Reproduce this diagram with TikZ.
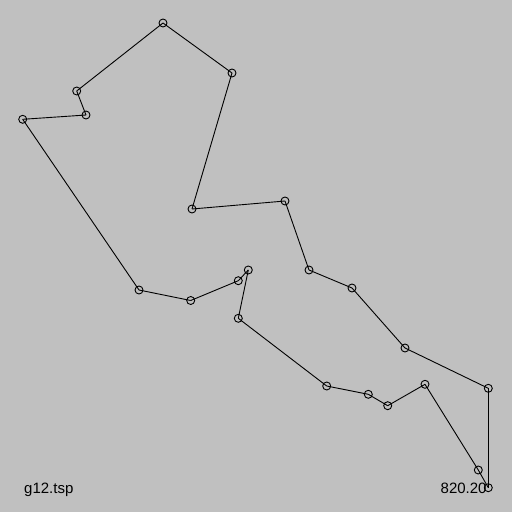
\documentclass[tikz,border=0pt]{standalone}
\usepackage{fontspec}
\setmainfont{Liberation Sans}
\definecolor{bg}{RGB}{192,192,192}
\begin{document}
\begin{tikzpicture}[x=1pt,y=-1pt,
  city/.style={circle,draw=black,line width=0.9pt,minimum size=8pt,inner sep=0pt},
  tour/.style={draw=black,line width=0.9pt},
  lbl/.style={font=\fontsize{15}{18}\selectfont,inner sep=0pt}]
\fill[bg] (0,0) rectangle (512,512);
\useasboundingbox (0,0) rectangle (512,512);
\foreach \n/\x/\y in {1/163/23,2/232/73,3/192/209,4/285/201,5/309/270,6/352/288,7/405/348,8/488.3/388.3,9/488.3/487.7,10/478.3/470,11/425/384.3,12/387.7/405.7,13/368.3/394.3,14/326.7/386,15/238.3/318.3,16/248.3/270,17/238.3/280.7,18/190.7/300.5,19/139/290,20/22.7/119.3,21/86/115,22/76.7/91}
  \node[city] (c\n) at (\x,\y) {};
\foreach \a/\b in {1/2,2/3,3/4,4/5,5/6,6/7,7/8,8/9,9/10,10/11,11/12,12/13,13/14,14/15,15/16,16/17,17/18,18/19,19/20,20/21,21/22,22/1}
  \draw[tour] (c\a.center) -- (c\b.center);
\node[lbl,anchor=base west] (name) at (24,493.3) {g12.tsp};
\node[lbl,anchor=base west] (len) at (440.5,493.3) {820.20};
\end{tikzpicture}
\end{document}
